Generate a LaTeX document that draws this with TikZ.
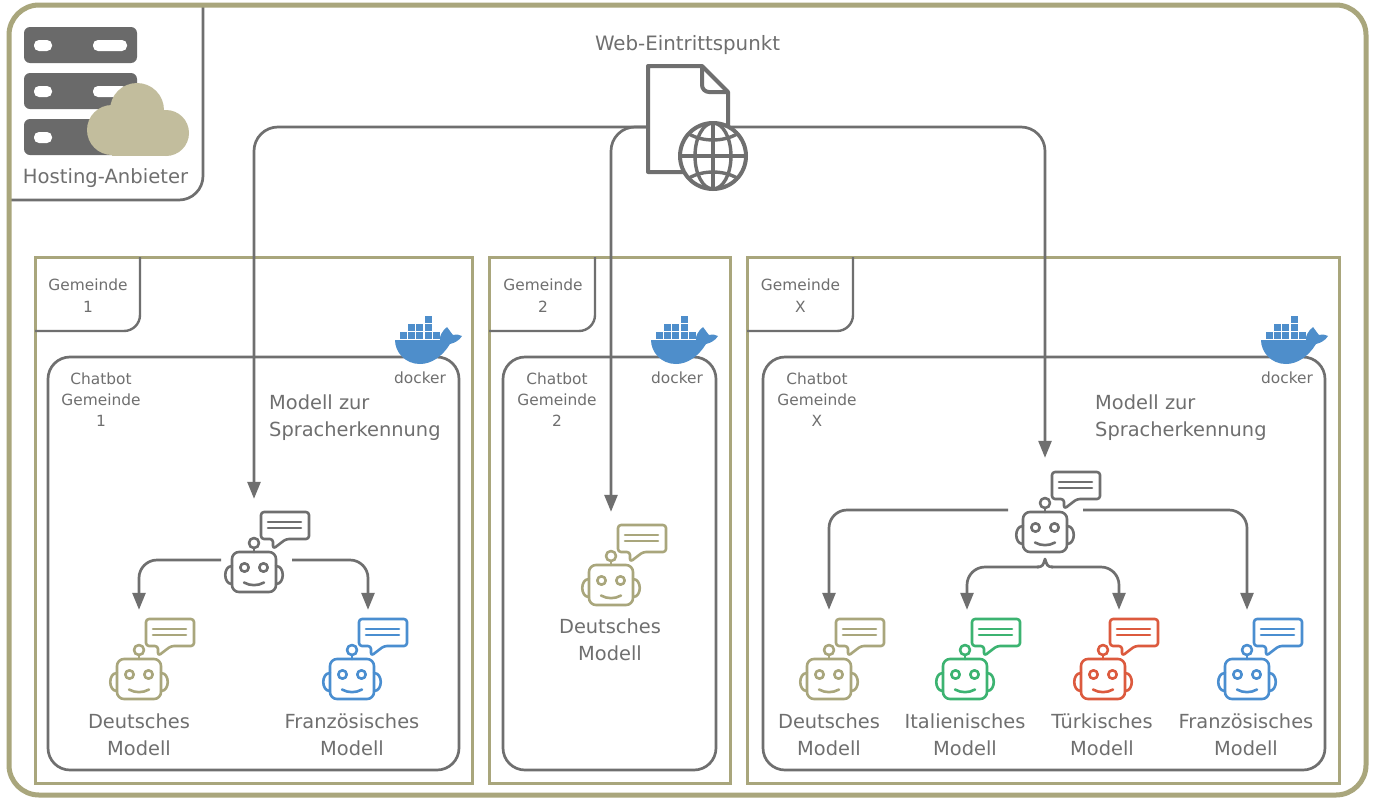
\documentclass[tikz,border=0pt]{standalone}
\usepackage{fontspec}
\setmainfont{DejaVu Sans}
\usetikzlibrary{arrows.meta,calc}
\definecolor{olive}{HTML}{A9A67C}
\definecolor{graytx}{HTML}{6F6F6F}
\definecolor{cloudc}{HTML}{C2BD9D}
\definecolor{bluec}{HTML}{4A8ED0}
\definecolor{greenc}{HTML}{3CB371}
\definecolor{redc}{HTML}{DC5A3E}
\definecolor{dockerc}{HTML}{4E8ECB}
\tikzset{
  frameolive/.style={draw=olive,line width=3pt},
  framegray/.style={draw=graytx,line width=2.7pt,rounded corners=22pt},
  tabline/.style={draw=graytx,line width=2.4pt,rounded corners=16pt},
  conn/.style={draw=graytx,line width=2.7pt,rounded corners=#1,-{Triangle[length=17pt,width=13pt]}},
  conn/.default=24pt,
  big/.style={text=graytx,font=\fontsize{19.4}{27}\selectfont,align=center,inner sep=0pt},
  bigl/.style={text=graytx,font=\fontsize{19.4}{27}\selectfont,align=left,inner sep=0pt},
  small/.style={text=graytx,font=\fontsize{15.4}{21.3}\selectfont,align=center,inner sep=0pt},
  rbox/.style={inner sep=0pt,minimum width=66pt,minimum height=#1},
}
\newcommand\robotpic[4]{% name, x, y, colour
  \begin{scope}[shift={(#2,#3)},draw=#4,line width=2.6pt,line cap=round,line join=round]
    \draw (-22,-6) .. controls (-31,-6) and (-31,12) .. (-22,12);
    \draw (22,-6) .. controls (31,-6) and (31,12) .. (22,12);
    \draw[rounded corners=7pt] (-22,-20) rectangle (22,20);
    \draw (0,-20) -- (0,-24);
    \draw (0,-29) circle (5);
    \draw (-9.5,-4.5) circle (4.2);
    \draw (9.5,-4.5) circle (4.2);
    \draw (-10,10.5) .. controls (-4,14) and (4,14) .. (10,10.5);
    \draw[rounded corners=3pt] (7,-60) -- (55,-60) -- (55,-33) -- (32,-33) -- (19,-23) -- (19,-33) -- (7,-33) -- cycle;
    \draw (14,-50) -- (47,-50);
    \draw (14,-44) -- (47,-44);
  \end{scope}
}
\newcommand\dockerpic[1]{%
  \begin{scope}[shift={(#1,340)}]
    \foreach \xx/\yy in {30/-24,13/-16,21/-16,30/-16,5/-8,13/-8,21/-8,30/-8,38/-8}
      \fill[dockerc] (\xx,\yy) rectangle ++(7,7);
    \fill[dockerc] (0,0) -- (45,0) .. controls (44,-3) and (47,-9) .. (52,-13)
      .. controls (55,-9) and (57,-6) .. (58,-5) .. controls (62,-6) and (65,-5) .. (67,-4)
      .. controls (64,1) and (59,3) .. (55,4) .. controls (47,17) and (36,24) .. (25,24)
      .. controls (10,24) and (0,12) .. (0,0) -- cycle;
  \end{scope}
}
\begin{document}
\begin{tikzpicture}[x=1pt,y=-1pt]
\useasboundingbox (0,0) rectangle (1373,798);
\fill[white] (0,0) rectangle (1373,798);

% municipality frames
\node[frameolive,minimum width=437pt,minimum height=526pt,inner sep=0pt] (g1) at (253.5,520) {};
\node[frameolive,minimum width=241pt,minimum height=526pt,inner sep=0pt] (g2) at (609.5,520) {};
\node[frameolive,minimum width=592pt,minimum height=526pt,inner sep=0pt] (gx) at (1043,520) {};
\draw[tabline] (140,257) -- (140,331) -- (35,331);
\draw[tabline] (595,257) -- (595,331) -- (489,331);
\draw[tabline] (853,257) -- (853,331) -- (747,331);

% chatbot containers
\node[framegray,minimum width=411pt,minimum height=413pt,inner sep=0pt] (c1) at (253.5,563.5) {};
\node[framegray,minimum width=213pt,minimum height=413pt,inner sep=0pt] (c2) at (609.5,563.5) {};
\node[framegray,minimum width=562pt,minimum height=413pt,inner sep=0pt] (cx) at (1044,563.5) {};

% texts
\node[small] (t1) at (88,295.5) {Gemeinde\\1};
\node[small] (t2) at (543,295.5) {Gemeinde\\2};
\node[small] (t3) at (800.5,295.5) {Gemeinde\\X};
\node[small] (t4) at (101,399.5) {Chatbot\\Gemeinde\\1};
\node[small] (t5) at (557,399.5) {Chatbot\\Gemeinde\\2};
\node[small] (t6) at (817,399.5) {Chatbot\\Gemeinde\\X};
\node[bigl,anchor=west] (t7) at (269,417.5) {Modell zur\\Spracherkennung};
\node[bigl,anchor=west] (t8) at (1095,417.5) {Modell zur\\Spracherkennung};

% docker
\dockerpic{395}
\dockerpic{651}
\dockerpic{1261}
\node[small] (d1) at (420,378) {docker};
\node[small] (d2) at (677,378) {docker};
\node[small] (d3) at (1287,378) {docker};

% robots
\node[rbox=146pt] (r1) at (254,572) {};
\node[rbox=146pt] (r2) at (611,585) {};
\node[rbox=148pt] (rx) at (1045,532) {};
\node[rbox=138pt] (de1) at (139,679) {};
\node[rbox=138pt] (fr1) at (352,679) {};
\node[rbox=138pt] (dex) at (829,679) {};
\node[rbox=138pt] (itx) at (965,679) {};
\node[rbox=138pt] (trx) at (1103,679) {};
\node[rbox=138pt] (frx) at (1247,679) {};
\robotpic{r1}{254}{572}{graytx}
\robotpic{r2}{611}{585}{olive}
\robotpic{rx}{1045}{532}{graytx}
\robotpic{de1}{139}{679}{olive}
\robotpic{fr1}{352}{679}{bluec}
\robotpic{dex}{829}{679}{olive}
\robotpic{itx}{965}{679}{greenc}
\robotpic{trx}{1103}{679}{redc}
\robotpic{frx}{1247}{679}{bluec}

\node[big] (l1) at (139,734.5) {Deutsches\\Modell};
\node[big] (l2) at (352,734.5) {Französisches\\Modell};
\node[big] (l3) at (610,639.5) {Deutsches\\Modell};
\node[big] (l4) at (829,734.5) {Deutsches\\Modell};
\node[big] (l5) at (965,734.5) {Italienisches\\Modell};
\node[big] (l6) at (1102,734.5) {Türkisches\\Modell};
\node[big] (l7) at (1246,734.5) {Französisches\\Modell};

% entry node: the document with the globe
\node[inner sep=0pt,minimum width=82pt,minimum height=122pt] (web) at (688,127) {};

% connectors
\draw[conn] (web.west) -| (r1.north);
\draw[conn] (web.west) -| (r2.north);
\draw[conn] (web.east) -| (rx.north);
\draw[conn=18pt] ($(r1.center)+(-33,-12)$) -| (de1.north);
\draw[conn=18pt] ($(r1.center)+(38,-12)$) -| ($(fr1.north)+(16,0)$);
\draw[conn=18pt] ($(rx.center)+(-37,-22)$) -| (dex.north);
\draw[conn=18pt] ($(rx.center)+(38,-22)$) -| (frx.north);
\draw[draw=graytx,line width=2.7pt,line join=round]
  ($(rx.center)+(-8,35)$) .. controls ($(rx.center)+(-2,35)$) and ($(rx.center)+(-2,33)$) .. ($(rx.center)+(0,27)$)
  .. controls ($(rx.center)+(2,33)$) and ($(rx.center)+(2,35)$) .. ($(rx.center)+(8,35)$);
\draw[conn=18pt] ($(rx.center)+(-6,35)$) -| ($(itx.north)+(2,0)$);
\draw[conn=18pt] ($(rx.center)+(6,35)$) -| ($(trx.north)+(16,0)$);

% document with globe
\begin{scope}[draw=graytx,line width=4pt,line join=round]
  \draw[fill=white] (648,66) -- (702,66) -- (728,92) -- (728,172) -- (648,172) -- cycle;
  \draw[rounded corners=7pt] (702,66) -- (702,92) -- (728,92);
  \draw[fill=white,line width=4pt] (713,156) circle (33);
  \draw[line width=3.4pt] (713,123) -- (713,189);
  \draw[line width=3.4pt] (680,156) -- (746,156);
  \draw[line width=3.4pt] (713,156) ellipse (18 and 33);
  \draw[line width=3.4pt] (689,134) .. controls (703,142) and (723,142) .. (737,134);
  \draw[line width=3.4pt] (689,178) .. controls (703,170) and (723,170) .. (737,178);
\end{scope}
\node[text=graytx,font=\fontsize{19.8}{27}\selectfont,inner sep=0pt] (wt) at (687.5,45) {Web-Eintrittspunkt};

% hosting provider
\draw[draw=graytx,line width=2.7pt,rounded corners=24pt] (203,5) -- (203,200) -- (11,200);
\foreach \yy in {27,73,119}{
  \fill[graytx!95!black,rounded corners=6pt] (24,\yy) rectangle (137,\yy+36);
  \fill[white,rounded corners=5pt] (34,\yy+13) rectangle (52,\yy+24);
  \fill[white,rounded corners=5pt] (93,\yy+13) rectangle (127,\yy+24);
}
\fill[cloudc] (112,130) circle (25);
\fill[cloudc] (137,110) circle (27);
\fill[cloudc] (166,133) circle (23);
\fill[cloudc] (112,130) rectangle (166,156);
\node[text=graytx,font=\fontsize{19.6}{24}\selectfont,inner sep=0pt] (ht) at (105.5,178) {Hosting-Anbieter};

% outer frame
\node[draw=olive,line width=5pt,rounded corners=30pt,minimum width=1357pt,minimum height=790pt,inner sep=0pt] (outer) at (687.5,400) {};
\end{tikzpicture}
\end{document}
